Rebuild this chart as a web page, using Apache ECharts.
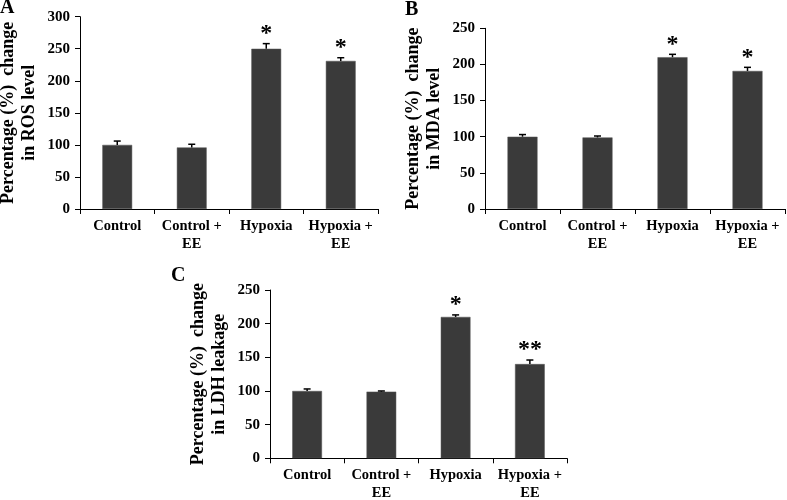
<!DOCTYPE html>
<html>
<head>
<meta charset="utf-8">
<script src="https://cdn.jsdelivr.net/npm/echarts@6/dist/echarts.min.js"></script>
<style>
html,body{margin:0;padding:0;background:#fff;}
#chart{width:787px;height:500px;}
</style>
</head>
<body>
<div id="chart"></div>
<script>
const categories = ['Control', 'Control +\nEE', 'Hypoxia', 'Hypoxia +\nEE'];

const rosMean = [100, 96, 250, 231];
const rosErr = [6, 5, 8, 5];
const rosMarks = ['', '', '*', '*'];

const mdaMean = [100, 99, 210, 191];
const mdaErr = [3, 2, 4, 5];
const mdaMarks = ['', '', '*', '*'];

const ldhMean = [100, 99, 210, 140];
const ldhErr = [3, 1, 3, 6];
const ldhMarks = ['', '', '*', '**'];

const yTitleA = 'Percentage (%)  change\nin ROS level';
const yTitleB = 'Percentage (%)  change\nin MDA level';
const yTitleC = 'Percentage (%)  change\nin LDH leakage';

const FONT = "'Liberation Serif', 'Times New Roman', serif";
const BAR = '#3a3a3a';

const chart = echarts.init(document.getElementById('chart'));

function xAxis(gi) {
  return {
    type: 'category', gridIndex: gi, data: categories,
    axisLine: { lineStyle: { color: '#000', width: 1 } },
    axisTick: { show: true, length: 5, lineStyle: { color: '#000' } },
    axisLabel: { color: '#000', fontFamily: FONT, fontWeight: 'bold', fontSize: 14.5, lineHeight: 18, margin: 8, interval: 0 }
  };
}
function yAxis(gi, max, name) {
  return {
    type: 'value', gridIndex: gi, min: 0, max: max, interval: 50,
    name: name, nameLocation: 'middle', nameRotate: 90, nameGap: 40,
    nameTextStyle: { color: '#000', fontFamily: FONT, fontWeight: 'bold', fontSize: 18, lineHeight: 21 },
    axisLine: { show: true, lineStyle: { color: '#000', width: 1 } },
    axisTick: { show: true, length: 5, lineStyle: { color: '#000' } },
    splitLine: { show: false },
    axisLabel: { color: '#000', fontFamily: FONT, fontWeight: 'bold', fontSize: 15, margin: 10 }
  };
}
function barSeries(gi, mean) {
  return {
    type: 'bar', xAxisIndex: gi, yAxisIndex: gi, data: mean, barWidth: '40%',
    itemStyle: { color: BAR, borderColor: '#555', borderWidth: 0.5 }, silent: true
  };
}
function errSeries(gi, mean, err, marks) {
  return {
    type: 'custom', xAxisIndex: gi, yAxisIndex: gi, silent: true, z: 5,
    data: mean.map((m, i) => [i, m, err[i]]),
    renderItem: function (params, api) {
      const i = api.value(0), m = api.value(1), e = api.value(2);
      const p0 = api.coord([i, m]);
      const p1 = api.coord([i, m + e]);
      const half = 3.5;
      return {
        type: 'group',
        children: [
          { type: 'line', shape: { x1: p0[0], y1: p0[1], x2: p1[0], y2: p1[1] }, style: { stroke: '#000', lineWidth: 1.5 } },
          { type: 'line', shape: { x1: p1[0] - half, y1: p1[1], x2: p1[0] + half, y2: p1[1] }, style: { stroke: '#000', lineWidth: 1.5 } },
          { type: 'text', x: p1[0], y: p1[1] + 2, style: { text: marks[params.dataIndex], fill: '#000', font: 'bold 24px ' + FONT, align: 'center', verticalAlign: 'bottom' } }
        ]
      };
    }
  };
}

chart.setOption({
  backgroundColor: '#fff',
  animation: false,
  title: [
    { text: 'A', left: 0, top: -2, padding: 0, textStyle: { fontFamily: FONT, fontWeight: 'bold', fontSize: 20, color: '#000' } },
    { text: 'B', left: 405, top: 0, padding: 0, textStyle: { fontFamily: FONT, fontWeight: 'bold', fontSize: 20, color: '#000' } },
    { text: 'C', left: 171, top: 266, padding: 0, textStyle: { fontFamily: FONT, fontWeight: 'bold', fontSize: 20, color: '#000' } }
  ],
  grid: [
    { left: 80, right: 409, top: 16.7, bottom: 291, outerBoundsMode: 'none', containLabel: false },
    { left: 485, right: 2, top: 28.3, bottom: 291, outerBoundsMode: 'none', containLabel: false },
    { left: 270, right: 220, top: 290, bottom: 41.7, outerBoundsMode: 'none', containLabel: false }
  ],
  xAxis: [xAxis(0), xAxis(1), xAxis(2)],
  yAxis: [yAxis(0, 300, yTitleA), yAxis(1, 250, yTitleB), yAxis(2, 250, yTitleC)],
  series: [
    barSeries(0, rosMean), errSeries(0, rosMean, rosErr, rosMarks),
    barSeries(1, mdaMean), errSeries(1, mdaMean, mdaErr, mdaMarks),
    barSeries(2, ldhMean), errSeries(2, ldhMean, ldhErr, ldhMarks)
  ]
});
</script>
</body>
</html>
